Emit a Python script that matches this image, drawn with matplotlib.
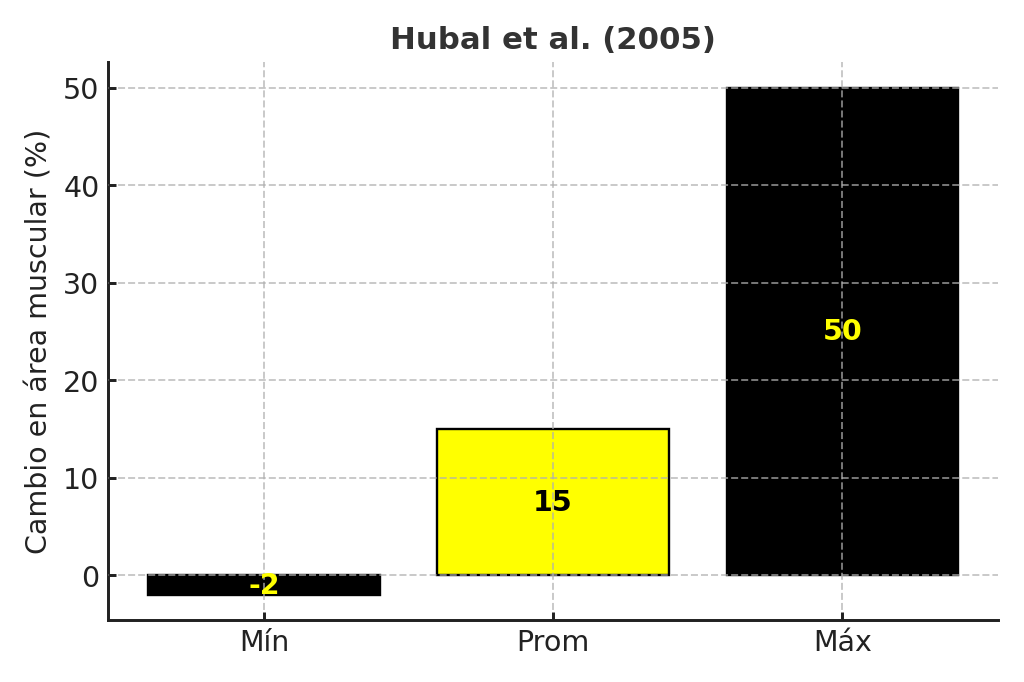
import matplotlib
matplotlib.use('Agg')
import matplotlib.pyplot as plt

categorias = ['Mín', 'Prom', 'Máx']
valores = [-2, 15, 50]
colores = ['black', 'yellow', 'black']
colores_texto = ['yellow', 'black', 'yellow']

fig, ax = plt.subplots(figsize=(6, 4), dpi=1024 / 6)

bars = ax.bar(categorias, valores, color=colores, edgecolor='black', width=0.8)
for bar, v, ct in zip(bars, valores, colores_texto):
    ax.text(bar.get_x() + bar.get_width() / 2, v / 2, str(v),
            ha='center', va='center', color=ct, fontsize=12, fontweight='bold')

ax.set_title('Hubal et al. (2005)', fontsize=13, fontweight='bold', color='#333333')
ax.set_ylabel('Cambio en área muscular (%)', fontsize=12, color='#222222')
ax.tick_params(labelsize=12, colors='#222222', width=1.25, direction='in')
ax.grid(True, linestyle='--', color='#b0b0b0', alpha=0.7, linewidth=0.8)
ax.set_axisbelow(False)
ax.spines['top'].set_visible(False)
ax.spines['right'].set_visible(False)
for s in ('left', 'bottom'):
    ax.spines[s].set_color('#222222')
    ax.spines[s].set_linewidth(1.25)

plt.tight_layout()
plt.savefig('out.png')
